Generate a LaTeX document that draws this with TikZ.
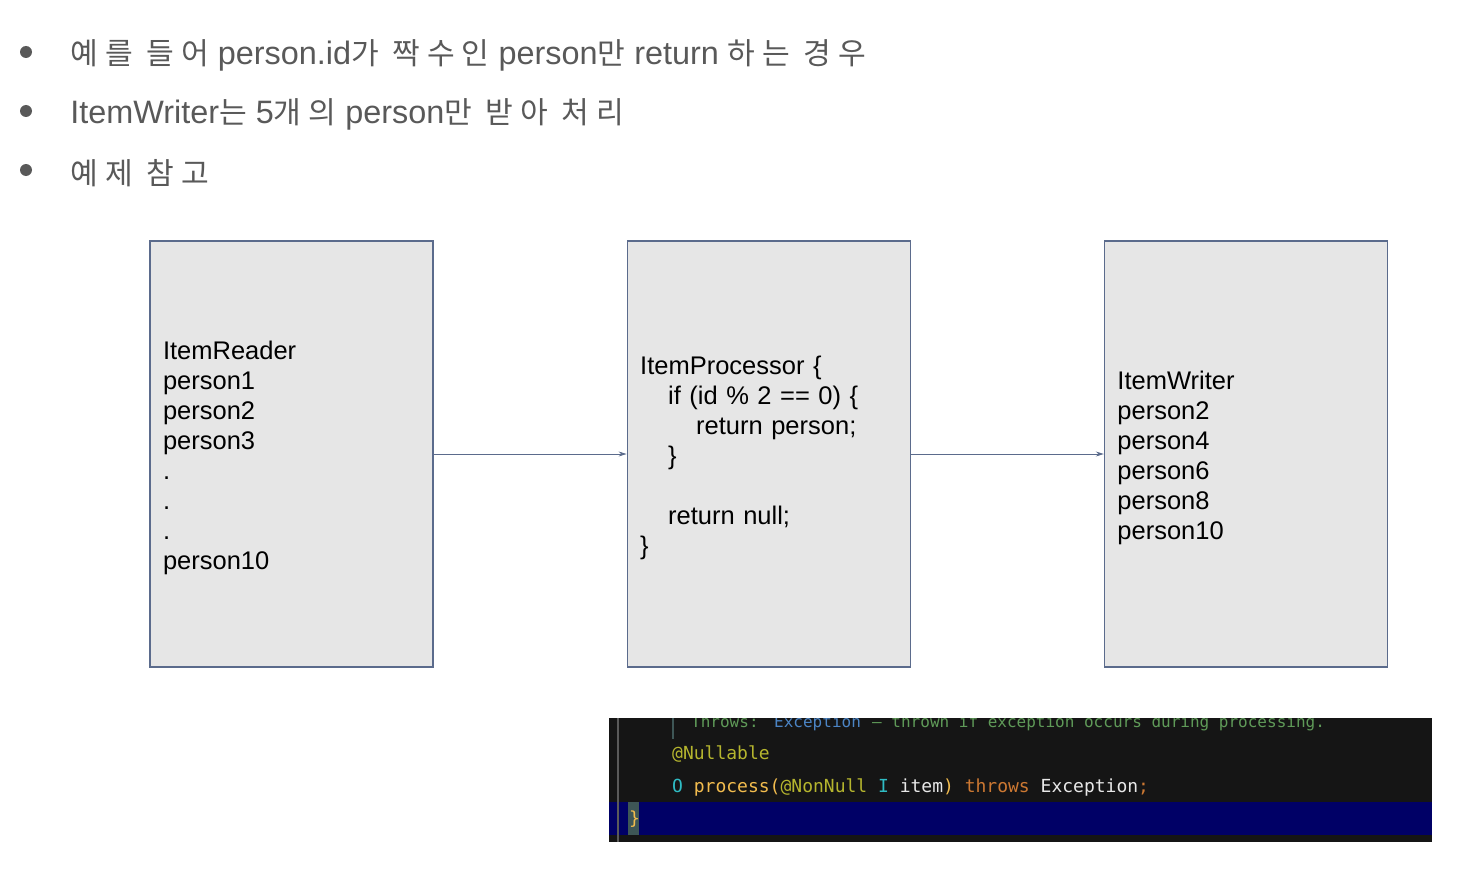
\documentclass[tikz,border=0pt]{standalone}
\usepackage{fontspec}
\setmainfont{Liberation Sans}
\setmonofont{DejaVu Sans Mono}
\newfontfamily\kr[Scale=0.93,LetterSpace=23]{Noto Sans CJK KR}
\usetikzlibrary{positioning,arrows.meta}
\definecolor{slidegray}{HTML}{595959}
\definecolor{boxfill}{HTML}{E6E6E6}
\definecolor{boxline}{HTML}{5B6B8C}
\definecolor{codebg}{HTML}{151515}
\definecolor{codeband}{HTML}{000066}
\definecolor{caretbox}{HTML}{3E5656}
\definecolor{gutter}{HTML}{5A5A5A}
\definecolor{docgreen}{HTML}{5F9A58}
\definecolor{docblue}{HTML}{4B84C4}
\definecolor{annot}{HTML}{B5B52E}
\definecolor{typeteal}{HTML}{2FBCC4}
\definecolor{method}{HTML}{F2BC4E}
\definecolor{keyword}{HTML}{CC7832}
\definecolor{plain}{HTML}{E8E8E8}

\begin{document}
\begin{tikzpicture}[x=1pt,y=-1pt,
    dot/.style={circle,fill=slidegray,inner sep=0pt,minimum size=12pt},
    point/.style={inner sep=0pt,yshift=-3pt,text=slidegray,font=\fontsize{32.4}{38}\selectfont},
    stage/.style={draw=boxline,fill=boxfill,line width=1.2pt,minimum height=426pt,
        text width=257pt,inner xsep=13pt,align=left,font=\fontsize{25.5}{30}\selectfont,
        execute at begin node={\rule{0pt}{27pt}}},
    flow/.style={draw=boxline,line width=0.9pt,-{Stealth[length=8pt,width=5pt]}},
    code/.style={inner sep=0pt,anchor=base west,font=\ttfamily\fontsize{18}{22}\selectfont},
    doc/.style={code,font=\ttfamily\fontsize{16}{20}\selectfont}]
    \useasboundingbox (0,0) rectangle (1469,872);

    \node[dot] (b1) at (26,52) {};
    \node[dot] (b2) at (26,111) {};
    \node[dot] (b3) at (26,170) {};
    \node[point,right=38pt of b1] (t1) {{\kr 예를 들어} person.id{\kr 가 짝수인} person{\kr 만} return {\kr 하는 경우}};
    \node[point,right=38pt of b2] (t2) {ItemWriter{\kr 는} 5{\kr 개의} person{\kr 만 받아 처리}};
    \node[point,right=38pt of b3] (t3) {{\kr 예제 참고}};

    \node[stage] (reader) at (291.5,454) {ItemReader\\person1\\person2\\person3\\.\\.\\.\\person10};
    \node[stage,right=193pt of reader] (proc) {ItemProcessor \{\\
        \hspace*{28pt}if (id \% 2 == 0) \{\\
        \hspace*{56pt}return person;\\
        \hspace*{28pt}\}\\
        \mbox{}\\
        \hspace*{28pt}return null;\\
        \}};
    \node[stage,right=193pt of proc] (writer) {ItemWriter\\person2\\person4\\person6\\person8\\person10};

    \draw[flow] (reader) -- (proc);
    \draw[flow] (proc) -- (writer);

    \fill[codebg] (609,718) rectangle (1432,842);
    \fill[codeband] (609,802) rectangle (1432,835);
    \fill[caretbox] (628,802) rectangle (639,835);
    \draw[gutter,line width=1.5pt] (618,718) -- (618,842);
    \draw[caretbox,line width=1.5pt] (673,718) -- (673,739);
    \begin{scope}
        \clip (609,718) rectangle (1432,842);
        \node[doc,text=docgreen] (throws) at (691,727) {Throws:};
        \node[doc,text=docblue] (exc) at (774,727) {Exception};
        \node[doc,text=docgreen] (thrown) at (872,727) {– thrown if exception occurs during processing.};
    \end{scope}
    \node[code,text=annot] (nullable) at (672,759) {@Nullable};
    \node[code] (sig) at (672,792) {\textcolor{typeteal}{O} \textcolor{method}{process(}\textcolor{annot}{@NonNull}
        \textcolor{typeteal}{I} \textcolor{plain}{item}\textcolor{method}{)} \textcolor{keyword}{throws}
        \textcolor{plain}{Exception}\textcolor{keyword}{;}};
    \node[code,text=method] (brace) at (629,824) {\}};
\end{tikzpicture}
\end{document}
